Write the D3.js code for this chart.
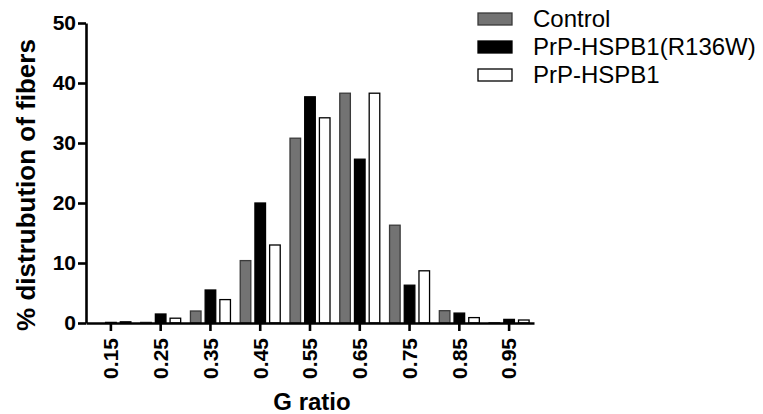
<!DOCTYPE html>
<html>
<head>
<meta charset="utf-8">
<script src="https://cdn.jsdelivr.net/npm/d3@7"></script>
<style>
  body { margin: 0; background: #fff; }
  text { font-family: "Liberation Sans", Arial, sans-serif; }
</style>
</head>
<body>
<div id="chart"></div>
<script>
// data
var categories = ["0.15", "0.25", "0.35", "0.45", "0.55", "0.65", "0.75", "0.85", "0.95"];
var seriesNames = ["Control", "PrP-HSPB1(R136W)", "PrP-HSPB1"];
var controlValues = [0, 0.1, 2.0, 10.4, 30.8, 38.3, 16.3, 2.05, 0.05];
var mutantValues = [0.1, 1.5, 5.5, 20.0, 37.7, 27.3, 6.3, 1.65, 0.6];
var wildValues = [0.2, 0.8, 3.9, 13.0, 34.2, 38.3, 8.7, 0.9, 0.5];
var yTicks = [0, 10, 20, 30, 40, 50];

var seriesFill = ["#737373", "#000000", "#ffffff"];
var seriesStroke = ["#3a3a3a", "#000000", "#000000"];

var width = 763, height = 414;

var svg = d3.select("#chart").append("svg")
    .attr("width", width)
    .attr("height", height);

var xScale = d3.scaleBand()
    .domain(categories)
    .range([86, 534]);

var yScale = d3.scaleLinear()
    .domain([0, 50])
    .range([323, 23]);

var inner = d3.scaleBand()
    .domain([0, 1, 2])
    .range([-20, 20])
    .paddingInner(0.28);

var allSeries = [controlValues, mutantValues, wildValues];

// bars
allSeries.forEach(function (vals, s) {
    svg.append("g").selectAll("rect")
        .data(vals)
        .enter().append("rect")
        .attr("x", function (d, i) { return xScale(categories[i]) + xScale.bandwidth() / 2 + inner(s); })
        .attr("y", function (d) { return yScale(d); })
        .attr("width", inner.bandwidth())
        .attr("height", function (d) { return yScale(0) - yScale(d); })
        .attr("fill", seriesFill[s])
        .attr("stroke", seriesStroke[s])
        .attr("stroke-width", 1.3);
});

// y axis
var yAxis = svg.append("g")
    .attr("transform", "translate(86,0)")
    .call(d3.axisLeft(yScale).tickValues(yTicks).tickSize(8).tickSizeOuter(0).tickPadding(2));

// x axis
var xAxis = svg.append("g")
    .attr("transform", "translate(0,323)")
    .call(d3.axisBottom(xScale).tickSize(8).tickSizeOuter(0));

[yAxis, xAxis].forEach(function (ax) {
    ax.select(".domain").attr("stroke", "#000").attr("stroke-width", 2.6);
    ax.selectAll(".tick line").attr("stroke", "#000").attr("stroke-width", 2.6);
    ax.selectAll("text")
        .attr("fill", "#000")
        .style("font-size", "21px")
        .style("font-weight", "bold");
});

xAxis.selectAll("text")
    .attr("transform", "rotate(-90)")
    .attr("text-anchor", "end")
    .attr("x", -15)
    .attr("y", 0)
    .attr("dy", "0.35em");

// axis titles
svg.append("text")
    .attr("transform", "translate(26,185) rotate(-90)")
    .attr("text-anchor", "middle")
    .attr("dy", "0.35em")
    .style("font-size", "26px")
    .style("font-weight", "bold")
    .text("% distrubution of fibers");

svg.append("text")
    .attr("x", 312)
    .attr("y", 410)
    .attr("text-anchor", "middle")
    .style("font-size", "24px")
    .style("font-weight", "bold")
    .text("G ratio");

// legend
var legend = svg.append("g").attr("transform", "translate(478,0)");
seriesNames.forEach(function (name, s) {
    var row = legend.append("g").attr("transform", "translate(0," + (19 + s * 28) + ")");
    row.append("rect")
        .attr("width", 34)
        .attr("height", 12)
        .attr("y", -6)
        .attr("fill", seriesFill[s])
        .attr("stroke", seriesStroke[s])
        .attr("stroke-width", 1.3);
    row.append("text")
        .attr("x", 55)
        .attr("y", 0)
        .attr("dy", "0.35em")
        .style("font-size", "24px")
        .text(name);
});
</script>
</body>
</html>
